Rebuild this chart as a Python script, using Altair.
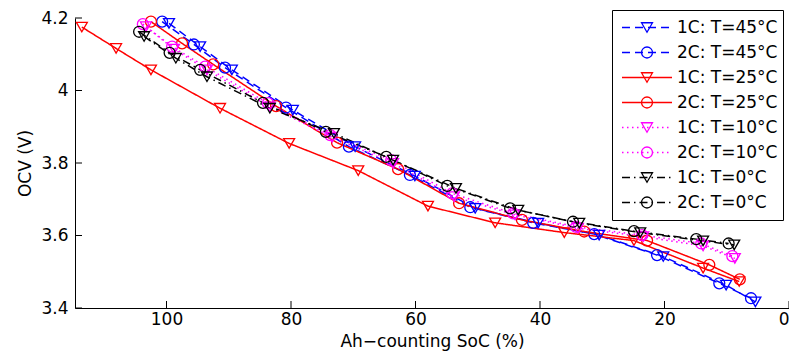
import altair as alt
import pandas as pd

FONT = "DejaVu Sans"

series_names = ["1C: T=45°C", "2C: T=45°C", "1C: T=25°C", "2C: T=25°C",
                "1C: T=10°C", "2C: T=10°C", "1C: T=0°C", "2C: T=0°C"]
point_keys = ["k1", "k2", "k3", "k4", "k5", "k6", "k7", "k8"]
colors = ["#0000ff", "#0000ff", "#ff0000", "#ff0000",
          "#ff00ff", "#ff00ff", "#000000", "#000000"]
dashes = [[8, 5], [8, 5], [1, 0], [1, 0], [1.5, 3.5], [1.5, 3.5], [8, 4, 1.5, 4], [8, 4, 1.5, 4]]
shapes = ["triangle-down", "circle"] * 4

x45_1 = [99.6, 94.6, 89.5, 79.7, 69.7, 60.1, 50.4, 40.3, 30.5, 20.2, 10.1, 5.4]
y45_1 = [4.185, 4.121, 4.057, 3.946, 3.845, 3.764, 3.675, 3.634, 3.601, 3.542, 3.463, 3.417]
x45_2 = [100.7, 95.6, 90.6, 80.8, 70.7, 60.9, 51.2, 41.1, 31.3, 21.2, 11.2, 6.1]
y45_2 = [4.190, 4.127, 4.063, 3.953, 3.845, 3.767, 3.678, 3.635, 3.604, 3.546, 3.468, 3.427]
x25_1 = [113.6, 108.1, 102.5, 91.4, 80.3, 69.2, 58.0, 47.2, 36.1, 24.9, 13.8, 8.0]
y25_1 = [4.175, 4.116, 4.057, 3.951, 3.854, 3.779, 3.681, 3.635, 3.608, 3.586, 3.510, 3.473]
x25_2 = [102.5, 97.5, 92.5, 82.4, 72.6, 62.8, 53.0, 42.9, 32.9, 22.8, 12.8, 7.9]
y25_2 = [4.190, 4.130, 4.072, 3.957, 3.856, 3.783, 3.689, 3.643, 3.611, 3.586, 3.519, 3.479]
x10_1 = [103.3, 98.8, 93.5, 83.4, 73.4, 63.6, 53.8, 44.0, 33.9, 23.4, 13.8, 8.7]
y10_1 = [4.176, 4.114, 4.057, 3.955, 3.871, 3.799, 3.707, 3.657, 3.620, 3.597, 3.571, 3.537]
x10_2 = [103.8, 99.1, 93.8, 83.7, 73.7, 63.9, 54.1, 44.3, 34.2, 23.6, 14.1, 9.1]
y10_2 = [4.183, 4.121, 4.066, 3.965, 3.877, 3.808, 3.716, 3.661, 3.624, 3.601, 3.578, 3.543]
x0_1 = [103.6, 98.5, 93.5, 83.4, 73.1, 63.6, 53.5, 43.5, 33.7, 23.9, 13.8, 8.8]
y0_1 = [4.149, 4.089, 4.038, 3.951, 3.882, 3.808, 3.730, 3.670, 3.634, 3.608, 3.585, 3.574]
x0_2 = [104.4, 99.5, 94.6, 84.5, 74.4, 64.7, 54.9, 44.8, 34.7, 24.9, 14.9, 9.7]
y0_2 = [4.162, 4.104, 4.057, 3.966, 3.886, 3.817, 3.737, 3.675, 3.638, 3.612, 3.590, 3.578]

x_ticks = [0, 20, 40, 60, 80, 100]
y_ticks = [3.4, 3.6, 3.8, 4.0, 4.2]

xs = [x45_1, x45_2, x25_1, x25_2, x10_1, x10_2, x0_1, x0_2]
ys = [y45_1, y45_2, y25_1, y25_2, y10_1, y10_2, y0_1, y0_2]

rows = []
for i, (name, key) in enumerate(zip(series_names, point_keys)):
    for j, (xv, yv) in enumerate(zip(xs[i], ys[i])):
        rows.append({"series": name, "key": key, "x": xv, "y": yv, "idx": j})
df = pd.DataFrame(rows)

XTITLE = "Ah\u2212counting SoC (%)"
YTITLE = "OCV (V)"
xscale = alt.Scale(domain=[0, 114.7], reverse=True, nice=False, zero=False)
yscale = alt.Scale(domain=[3.4, 4.2], nice=False, zero=False)
xaxis = alt.Axis(values=x_ticks, format="d", labelPadding=3, titlePadding=6)
yaxis = alt.Axis(values=y_ticks, format="~g", labelPadding=7, titlePadding=6)


def X(field):
    return alt.X(field, type="quantitative", scale=xscale, axis=xaxis, title=XTITLE)


def Y(field):
    return alt.Y(field, type="quantitative", scale=yscale, axis=yaxis, title=YTITLE)


LX, LY = 537, -8

line_legend = alt.Legend(
    title=None, orient="none", legendX=LX, legendY=LY, padding=5,
    strokeColor="black", fillColor="white", cornerRadius=0,
    symbolType="stroke", symbolSize=2500, symbolStrokeWidth=1.5,
    clipHeight=25, rowPadding=0, labelFont=FONT, labelFontSize=17,
    labelColor="black", labelOffset=4, symbolOffset=4,
)
point_legend = alt.Legend(
    title=None, orient="none", legendX=LX, legendY=LY, padding=5,
    strokeColor="transparent", fillColor="transparent",
    symbolSize=120, symbolStrokeWidth=1.3, symbolFillColor="transparent",
    clipHeight=25, rowPadding=0, labelFont=FONT, labelFontSize=17,
    labelExpr="''", labelOffset=4, symbolOffset=21.5,
)

base = alt.Chart(df)

lines = base.mark_line(strokeWidth=1.5).encode(
    x=X("x"),
    y=Y("y"),
    color=alt.Color("series:N", scale=alt.Scale(domain=series_names, range=colors), legend=line_legend),
    strokeDash=alt.StrokeDash("series:N", scale=alt.Scale(domain=series_names, range=dashes), legend=line_legend),
    order="idx:Q",
)

points = base.mark_point(filled=False, size=120, strokeWidth=1.3, opacity=1).encode(
    x=X("x"),
    y=Y("y"),
    stroke=alt.Stroke("key:N", scale=alt.Scale(domain=point_keys, range=colors), legend=point_legend),
    shape=alt.Shape("key:N", scale=alt.Scale(domain=point_keys, range=shapes), legend=point_legend),
)

xt = alt.Chart(pd.DataFrame({"x": x_ticks})).mark_rule(color="black", strokeWidth=1).encode(
    x=X("x"), y=alt.value(290), y2=alt.value(283)
)
yt = alt.Chart(pd.DataFrame({"y": y_ticks})).mark_rule(color="black", strokeWidth=1).encode(
    y=Y("y"), x=alt.value(0), x2=alt.value(7)
)

chart = alt.layer(xt, yt, lines, points).properties(
    width=714, height=290,
    autosize=alt.AutoSizeParams(type="none"),
    padding={"left": 67, "top": 10, "right": 0, "bottom": 44},
).configure_axis(
    labelFont=FONT, labelFontSize=17, labelColor="black",
    titleFont=FONT, titleFontSize=17, titleFontWeight="normal", titleColor="black",
    domainColor="black", domainWidth=1, ticks=False, tickSize=0, grid=False,
).configure_view(stroke=None)

chart.save("out.html", embed_options={"renderer": "svg", "actions": False})
